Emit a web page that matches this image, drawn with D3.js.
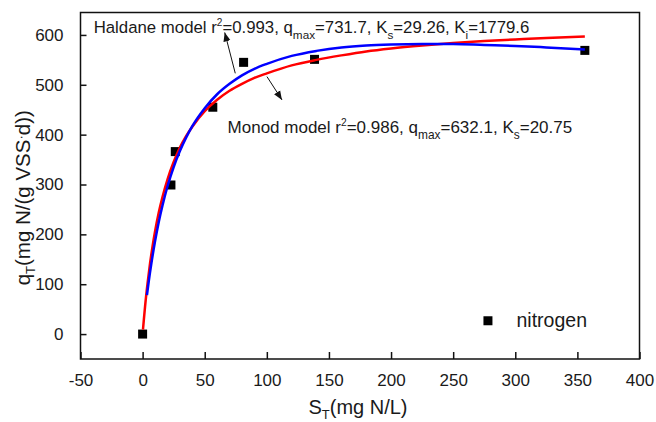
<!DOCTYPE html>
<html>
<head>
<meta charset="utf-8">
<script src="https://cdn.jsdelivr.net/npm/d3@7"></script>
<style>
  body { margin: 0; background: #fff; }
  svg text { font-family: "Liberation Sans", Arial, sans-serif; fill: #1a1a1a; }
</style>
</head>
<body>
<div id="plot"></div>
<script>
// measured points
var sData = [0, 22.8, 26.3, 56.5, 81.3, 138.4, 356];
var qData = [0, 299, 366, 455, 545, 551, 569];

// fitted curves
var haldaneS = [3.5, 5, 7, 10, 13, 16, 20, 25, 30, 35, 40, 50, 60, 70, 80, 90, 100, 120, 140, 160, 180, 200, 225, 250, 275, 300, 325, 356];
var haldaneQ = [78, 107, 141, 186, 225, 258, 296, 335, 367, 394, 417, 453, 481, 502, 519, 532, 542, 558, 568, 575, 579, 581, 582, 582, 580, 578, 575, 571];
var monodS = [0.3, 1, 2, 4, 6, 8, 10, 13, 16, 20, 25, 30, 35, 40, 50, 60, 70, 80, 90, 100, 120, 140, 160, 180, 200, 225, 250, 275, 300, 325, 356];
var monodQ = [9, 29, 56, 102, 142, 176, 206, 244, 275, 310, 345, 374, 397, 416, 447, 470, 488, 502, 514, 523, 539, 550, 559, 567, 573, 579, 584, 588, 591, 594, 597];

var xTicks = [-50, 0, 50, 100, 150, 200, 250, 300, 350, 400];
var yTicks = [0, 100, 200, 300, 400, 500, 600];

var W = 656, H = 422;
var pL = 80.5, pR = 639.5, pT = 12.5, pB = 359;

var svg = d3.select("div#plot").append("svg")
    .attr("width", W)
    .attr("height", H);

var x = d3.scaleLinear().domain([-50, 400]).range([pL, pR]);
var y = d3.scaleLinear().domain([-50, 645]).range([pB, pT]);

// axes, ticks inside
var fmt = function(d) { return String(d); };
var xAxis = d3.axisBottom(x).tickValues(xTicks).tickFormat(fmt).tickSizeInner(-7).tickSizeOuter(0).tickPadding(15);
var yAxis = d3.axisLeft(y).tickValues(yTicks).tickFormat(fmt).tickSizeInner(-6).tickSizeOuter(0).tickPadding(17);

var gx = svg.append("g").attr("transform", "translate(0," + pB + ")").call(xAxis);
var gy = svg.append("g").attr("transform", "translate(" + pL + ",0)").call(yAxis);
[gx, gy].forEach(function(g) {
  g.select(".domain").remove();
  g.selectAll(".tick line").attr("stroke", "#111").attr("stroke-width", 1.5);
  g.selectAll(".tick text").attr("font-size", 17).attr("fill", "#1a1a1a")
   .attr("font-family", "Liberation Sans, Arial, sans-serif");
});
gx.selectAll(".tick text").attr("dy", "0.71em");

// frame
svg.append("rect")
  .attr("x", pL).attr("y", pT)
  .attr("width", pR - pL).attr("height", pB - pT)
  .attr("fill", "none").attr("stroke", "#111").attr("stroke-width", 1.5);

// scatter
svg.selectAll(".pt")
  .data(sData)
  .enter().append("rect")
  .attr("class", "pt")
  .attr("x", function(d) { return x(d) - 4.5; })
  .attr("y", function(d, i) { return y(qData[i]) - 4.5; })
  .attr("width", 9).attr("height", 9)
  .attr("fill", "#000");

var line = d3.line().curve(d3.curveMonotoneX);
svg.append("path")
  .datum(monodS.map(function(s, i) { return [x(s), y(monodQ[i])]; }))
  .attr("d", line)
  .attr("fill", "none").attr("stroke", "#ff0000").attr("stroke-width", 2.5);
svg.append("path")
  .datum(haldaneS.map(function(s, i) { return [x(s), y(haldaneQ[i])]; }))
  .attr("d", line)
  .attr("fill", "none").attr("stroke", "#0000ff").attr("stroke-width", 2.5);

// annotations
function richText(px, py, parts, size) {
  var t = svg.append("text").attr("x", px).attr("y", py).attr("font-size", size);
  parts.forEach(function(p) {
    var ts = t.append("tspan").text(p[0]);
    if (p[1] === "sup") ts.attr("font-size", size * 0.6).attr("dy", -7);
    else if (p[1] === "sub") ts.attr("font-size", size * 0.7).attr("dy", 6);
    if (p[2]) ts.attr("dy", p[2]);
  });
  return t;
}

richText(x(-39.4), y(603.5), [
  ["Haldane model r"], ["2", "sup"], ["=0.993, q", null, 7], ["max", "sub"],
  ["=731.7, K", null, -6], ["s", "sub"], ["=29.26, K", null, -6], ["i", "sub"], ["=1779.6", null, -6]
], 16.8);

richText(x(68.4), y(403), [
  ["Monod model r"], ["2", "sup"], ["=0.986, q", null, 7], ["max", "sub"],
  ["=632.1, K", null, -6], ["s", "sub"], ["=20.75", null, -6]
], 17);

// arrows
var defs = svg.append("defs");
defs.append("marker").attr("id", "ah")
  .attr("viewBox", "0 0 10 10").attr("refX", 10).attr("refY", 5)
  .attr("markerWidth", 9).attr("markerHeight", 9)
  .attr("markerUnits", "userSpaceOnUse")
  .attr("orient", "auto")
  .append("path").attr("d", "M0,1 L10,5 L0,9 Z").attr("fill", "#111");

var arrows = [[74.6, 523, 66.1, 605], [100.1, 516.4, 112.2, 469.7]];
svg.selectAll(".arrow")
  .data(arrows)
  .enter().append("line")
  .attr("class", "arrow")
  .attr("x1", function(d) { return x(d[0]); })
  .attr("y1", function(d) { return y(d[1]); })
  .attr("x2", function(d) { return x(d[2]); })
  .attr("y2", function(d) { return y(d[3]); })
  .attr("stroke", "#111").attr("stroke-width", 1)
  .attr("marker-end", "url(#ah)");

// legend
svg.append("rect")
  .attr("x", x(278) - 4.5).attr("y", y(26.7) - 4.5)
  .attr("width", 9).attr("height", 9).attr("fill", "#000");
svg.append("text")
  .attr("x", x(301)).attr("y", y(26.7) + 6)
  .attr("font-size", 19.5)
  .text("nitrogen");

// axis titles
var xt = svg.append("text")
  .attr("x", (pL + pR) / 2 - 2).attr("y", 414)
  .attr("text-anchor", "middle").attr("font-size", 20);
xt.append("tspan").text("S");
xt.append("tspan").text("T").attr("font-size", 13).attr("dy", 5);
xt.append("tspan").text("(mg N/L)").attr("dy", -5);

var yt = svg.append("text")
  .attr("transform", "translate(30," + ((pT + pB) / 2 + 12) + ") rotate(-90)")
  .attr("text-anchor", "middle").attr("font-size", 20.5);
yt.append("tspan").text("q");
yt.append("tspan").text("T").attr("font-size", 13).attr("dy", 5);
yt.append("tspan").text("(mg N/(g VSS").attr("dy", -5);
yt.append("tspan").text("·").attr("dy", -5).attr("font-size", 13);
yt.append("tspan").text("d))").attr("dy", 5);
</script>
</body>
</html>
